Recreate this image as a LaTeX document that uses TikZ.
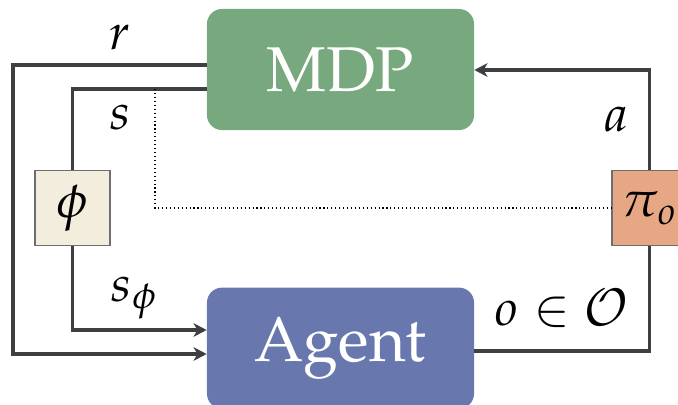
\documentclass[tikz,border=0pt]{standalone}
\usepackage[T1]{fontenc}
\usepackage{mathpazo}
\usepackage{xcolor}
\usepackage{tikz}
\usetikzlibrary{arrows.meta, positioning}

\definecolor{mdpgreen}{HTML}{78A87E}
\definecolor{agentblue}{HTML}{6878AE}
\definecolor{phifill}{HTML}{F2EDDC}
\definecolor{pifill}{HTML}{E8A784}
\definecolor{boxgray}{HTML}{6E6E6E}
\definecolor{linegray}{HTML}{3D4042}

\begin{document}
\begin{tikzpicture}[
    x=0.025cm, y=-0.025cm,
    every node/.style={font=\fontsize{36}{40}\selectfont},
    block/.style={rectangle, rounded corners=0.375cm, inner sep=0pt, minimum width=6.675cm, minimum height=3.025cm, text=white, font=\fontsize{45}{50}\selectfont},
    mapbox/.style={rectangle, draw=boxgray, line width=0.8pt, minimum size=1.875cm, inner sep=0pt},
    flow/.style={draw=linegray, line width=2.4pt},
    arrow/.style={flow, -{Stealth[length=3.3mm, width=3.4mm, inset=1mm]}}
]
    \useasboundingbox (0,0) rectangle (678,404);

    % Main blocks
    \node[block, fill=mdpgreen] (MDP) at (340.5,69.5) {MDP};
    \node[block, fill=agentblue, below=3.925cm of MDP] (Agent) {Agent};

    % Feature map and observation policy
    \node[mapbox, fill=phifill] (phi) at (72.5,208) {$\phi$};
    \node[mapbox, fill=pifill] (pi) at (649.5,208) {$\pi_o$};

    % Turning points of the wires
    \coordinate (rY) at (13,65);
    \coordinate (rIn) at (13,354);
    \coordinate (sY) at (0,89);
    \coordinate (sIn) at (0,330);
    \coordinate (dotTop) at (155,89);
    \coordinate (aY) at (0,70);
    \coordinate (oY) at (0,351);

    % Wires
    \draw[flow] (MDP.west |- sY) -| (phi.north);
    \draw[arrow] (phi.south) |- (Agent.west |- sIn);
    \draw[arrow] (MDP.west |- rY) -| (rIn) -- (Agent.west |- rIn);
    \draw[arrow] (pi.north) |- (MDP.east |- aY);
    \draw[flow] (Agent.east |- oY) -| (pi.south);
    \draw[dotted, line width=0.8pt] (dotTop) |- (pi.west);

    % Labels
    \node (rlbl) at (120,37) {$r$};
    \node (slbl) at (120,117) {$s$};
    \node (sphilbl) at (134,298) {$s_\phi$};
    \node (albl) at (616,119) {$a$};
    \node (olbl) at (562,309) {$o \in \mathcal{O}$};
\end{tikzpicture}
\end{document}
